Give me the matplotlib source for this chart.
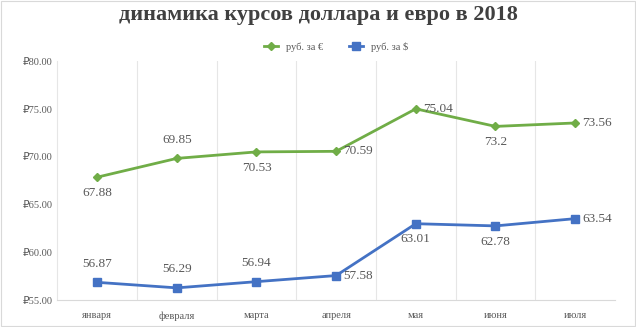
import matplotlib
matplotlib.use("Agg")
import matplotlib.pyplot as plt
from matplotlib.ticker import FuncFormatter, MultipleLocator

months = ["января", "февраля", "марта", "апреля", "мая", "июня", "июля"]
eur = [67.88, 69.85, 70.53, 70.59, 75.04, 73.2, 73.56]
usd = [56.87, 56.29, 56.94, 57.58, 63.01, 62.78, 63.54]
eur_pos = ["below", "above", "below", "right", "right", "below", "right"]
usd_pos = ["above", "above", "above", "right", "below", "below", "right"]

plt.rcParams["font.family"] = ["Liberation Serif", "DejaVu Sans"]

fig = plt.figure(figsize=(6.36, 3.27), dpi=100)
ax = fig.add_axes([0.09, 0.082, 0.877, 0.73])

green = "#70AD47"
blue = "#4472C4"
x = list(range(len(months)))
ax.plot(x, eur, color=green, lw=2, marker="D", ms=4, label="руб. за €")
ax.plot(x, usd, color=blue, lw=2, marker="s", ms=6, label="руб. за $")

def put_labels(vals, poss):
    for i, (v, p) in enumerate(zip(vals, poss)):
        if p == "above":
            ax.annotate(f"{v:g}", (i, v), xytext=(0, 9), textcoords="offset points",
                        ha="center", va="bottom", fontsize=9.5, color="#595959")
        elif p == "below":
            ax.annotate(f"{v:g}", (i, v), xytext=(0, -7), textcoords="offset points",
                        ha="center", va="top", fontsize=9.5, color="#595959")
        else:
            ax.annotate(f"{v:g}", (i, v), xytext=(5, 0), textcoords="offset points",
                        ha="left", va="center", fontsize=9.5, color="#595959")

put_labels(eur, eur_pos)
put_labels(usd, usd_pos)

ax.set_xlim(-0.5, len(months) - 0.5)
ax.set_ylim(55, 80)
ax.yaxis.set_major_locator(MultipleLocator(5))
ax.yaxis.set_major_formatter(FuncFormatter(lambda v, _: f"₽{v:.2f}"))
ax.set_xticks(x)
ax.set_xticklabels(months)
ax.set_xticks([i + 0.5 for i in x[:-1]], minor=True)
ax.grid(True, which="minor", axis="x", color="#E6E6E6", lw=0.8)
ax.tick_params(which="both", length=0)
ax.tick_params(axis="both", labelsize=7.5, colors="#595959")
ax.tick_params(axis="x", pad=8)
for s in ["top", "right"]:
    ax.spines[s].set_visible(False)
ax.spines["left"].set_color("#E6E6E6")
ax.spines["bottom"].set_color("#D9D9D9")

fig.text(0.5, 0.985, "динамика курсов доллара и евро в 2018", ha="center", va="top",
         fontsize=16, fontweight="bold", color="#404040")
ax.legend(loc="lower center", bbox_to_anchor=(0.5, 1.0), ncol=2, frameon=False,
          fontsize=7.5, labelcolor="#595959", handlelength=1.3, columnspacing=2.5)

fig.patches.append(plt.Rectangle((0.002, 0.003), 0.996, 0.994, transform=fig.transFigure,
                                 fill=False, edgecolor="#D9D9D9", lw=0.8))
fig.savefig("out.png", dpi=100)
